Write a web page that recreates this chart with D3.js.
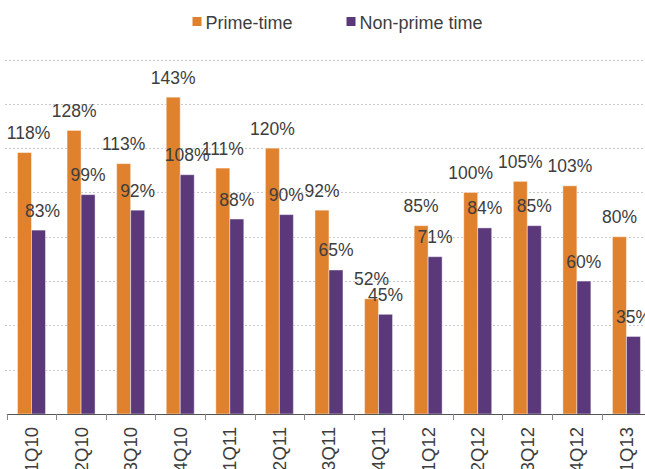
<!DOCTYPE html>
<html>
<head>
<meta charset="utf-8">
<script src="https://cdn.jsdelivr.net/npm/d3@7"></script>
<style>
  html, body { margin: 0; padding: 0; background: #fff; }
  svg { display: block; font-family: "Liberation Sans", Arial, Helvetica, sans-serif; }
</style>
</head>
<body>
<svg id="chart" width="645" height="469"></svg>
<script>
const categories = ["1Q10","2Q10","3Q10","4Q10","1Q11","2Q11","3Q11","4Q11","1Q12","2Q12","3Q12","4Q12","1Q13"];
const primeTime = [118,128,113,143,111,120,92,52,85,100,105,103,80];
const nonPrimeTime = [83,99,92,108,88,90,65,45,71,84,85,60,35];
const seriesNames = ["Prime-time","Non-prime time"];
const seriesColors = ["#E0812E","#5B3879"];
const yTicks = [0,20,40,60,80,100,120,140,160];

const svg = d3.select("#chart");
const W = 645, H = 469;
const plotLeft = 6.7, step = 49.58, axisY = 414, topY = 59.5;

const x0 = d3.scaleBand().domain(categories).range([plotLeft, plotLeft + step * categories.length]).padding(0);
const y = d3.scaleLinear().domain([0, 160]).range([axisY, topY]);
const groupW = 28;
const x1 = d3.scaleBand().domain(seriesNames).range([-groupW/2, groupW/2]).padding(0);

// gridlines
svg.append("g").selectAll("line").data(yTicks.filter(d => d > 0)).join("line")
  .attr("x1", 5).attr("x2", W)
  .attr("y1", d => Math.round(y(d)) + 0.5).attr("y2", d => Math.round(y(d)) + 0.5)
  .attr("stroke", "#c9c9c9").attr("stroke-width", 1).attr("stroke-dasharray", "2,2");

const data = categories.map((c, i) => ({ cat: c, values: [primeTime[i], nonPrimeTime[i]] }));

const groups = svg.append("g").selectAll("g").data(data).join("g")
  .attr("transform", d => `translate(${x0(d.cat) + x0.bandwidth()/2},0)`);

groups.selectAll("rect").data(d => d.values.map((v, j) => ({ v, s: seriesNames[j], j }))).join("rect")
  .attr("x", d => x1(d.s))
  .attr("width", x1.bandwidth())
  .attr("y", d => y(d.v))
  .attr("height", d => axisY - y(d.v))
  .attr("fill", d => seriesColors[d.j])
  .attr("stroke", "#ffffff").attr("stroke-opacity", 0.45).attr("stroke-width", 1);

groups.selectAll("text").data(d => d.values.map((v, j) => ({ v, s: seriesNames[j], j, first: d.cat === categories[0] }))).join("text")
  .attr("x", d => x1(d.s) + x1.bandwidth()/2 + (d.first ? 4 : 0))
  .attr("y", d => y(d.v) - 13.5)
  .attr("text-anchor", "middle")
  .attr("font-size", "17.5px")
  .attr("fill", "#3d3d3d")
  .text(d => d.v + "%");

// x axis
const axisG = svg.append("g").attr("transform", `translate(0,${axisY})`);
axisG.append("line").attr("x1", plotLeft).attr("x2", W).attr("y1", 0.5).attr("y2", 0.5)
  .attr("stroke", "#555").attr("stroke-width", 1.2);
const boundaries = d3.range(categories.length + 1).map(i => x0.range()[0] + i * x0.step());
axisG.selectAll("line.tick").data(boundaries).join("line").attr("class","tick")
  .attr("x1", d => Math.round(d) + 0.5).attr("x2", d => Math.round(d) + 0.5)
  .attr("y1", 0).attr("y2", 6).attr("stroke", "#888").attr("stroke-width", 1);
axisG.selectAll("text").data(categories).join("text")
  .attr("transform", d => `translate(${x0(d) + x0.bandwidth()/2 + 6.5},13) rotate(-90)`)
  .attr("text-anchor", "end")
  .attr("font-size", "18.5px")
  .attr("fill", "#3d3d3d")
  .text(d => d);

// legend
const legend = [
  { name: seriesNames[0], color: seriesColors[0], x: 192.5 },
  { name: seriesNames[1], color: seriesColors[1], x: 346.5 }
];
const lg = svg.append("g").selectAll("g").data(legend).join("g")
  .attr("transform", d => `translate(${d.x},0)`);
lg.append("rect").attr("x", 0).attr("y", 17).attr("width", 9).attr("height", 9).attr("fill", d => d.color);
lg.append("text").attr("x", 13).attr("y", 28.5).attr("font-size", "18px").attr("fill", "#3d3d3d").text(d => d.name);
</script>
</body>
</html>
